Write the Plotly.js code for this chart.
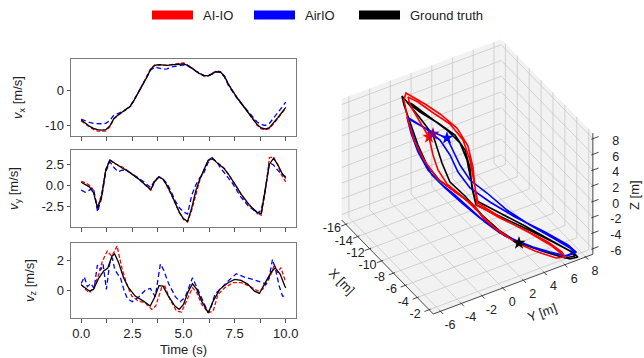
<!DOCTYPE html>
<html><head><meta charset="utf-8">
<script src="https://cdn.plot.ly/plotly-3.0.1.min.js"></script>
<style>html,body{margin:0;padding:0;background:#fff}#chart{width:644px;height:358px}</style>
</head><body><div id="chart"></div>
<script>
// ---------- velocity data ----------
const t = [0,0.2,0.4,0.6,0.8,1,1.2,1.4,1.6,1.8,2,2.2,2.4,2.6,2.8,3,3.2,3.4,3.6,3.8,4,4.2,4.4,4.6,4.8,5,5.2,5.4,5.6,5.8,6,6.2,6.4,6.6,6.8,7,7.2,7.4,7.6,7.8,8,8.2,8.4,8.6,8.8,9,9.2,9.4,9.6,9.8,10];
const vxGT  = [-8.3,-9.3,-10.1,-10.7,-11.1,-11.2,-11.1,-10.0,-7.9,-6.9,-6.1,-5.3,-4.4,-2.5,-0.4,1.5,3.8,6.2,7.3,7.5,7.3,7.3,7.4,7.4,7.6,7.7,7.3,6.6,5.6,4.9,4.4,4.3,4.9,5.5,5.4,4.2,1.8,-0.2,-1.8,-3.4,-5.0,-6.6,-8.2,-9.6,-10.6,-10.9,-10.5,-9.2,-7.7,-6.2,-4.7];
const vxAI  = [-8.6,-9.5,-10.3,-11.0,-11.5,-11.5,-11.5,-10.3,-8.0,-7.0,-6.2,-5.4,-4.5,-2.6,-0.3,1.7,4.0,6.4,7.4,7.4,7.2,7.3,7.5,7.6,7.8,8.0,7.4,6.5,5.5,4.8,4.3,4.3,5.0,5.7,5.5,4.3,1.9,-0.1,-1.7,-3.3,-5.0,-6.7,-8.4,-9.8,-10.9,-11.1,-10.8,-9.5,-8.0,-6.4,-4.9];
const vxAir = [-8.1,-8.6,-9.0,-9.3,-9.4,-9.4,-9.3,-8.5,-6.9,-6.4,-6.0,-5.2,-4.3,-2.4,-0.4,1.5,3.8,6.0,6.8,6.5,6.2,6.3,6.8,7.0,7.3,7.4,7.1,6.4,5.5,4.8,4.3,4.2,4.8,5.4,5.3,4.0,1.5,-0.4,-2.0,-3.4,-4.8,-6.3,-7.7,-8.9,-9.6,-9.9,-9.3,-7.9,-6.3,-4.8,-3.2];
const vyGT  = [0.35,0.05,-0.2,-0.9,-2.75,-1.3,1.8,3.0,2.65,2.3,2.05,1.8,1.5,1.1,0.75,0.35,-0.15,-0.55,0.5,0.95,0.7,-0.05,-1.05,-2.15,-3.25,-4.0,-4.35,-2.75,-0.7,0.75,1.85,2.95,3.3,2.75,2.35,1.95,1.3,0.6,-0.2,-1.0,-1.7,-2.3,-2.8,-3.25,-3.4,-0.3,2.5,3.2,2.5,1.5,0.8];
const vyAI  = [0.45,0.3,0.0,-0.6,-2.7,-1.0,1.9,3.05,2.6,2.35,2.2,1.85,1.5,1.1,0.75,0.3,-0.2,-0.6,0.4,1.0,0.75,-0.1,-1.1,-2.2,-3.3,-4.1,-4.4,-3.0,-1.1,0.6,1.8,2.9,3.2,2.8,2.5,2.0,1.3,0.5,-0.3,-1.0,-1.8,-2.4,-2.9,-3.3,-3.6,-0.8,3.3,3.4,2.4,1.2,0.4];
const vyAir = [-0.6,-0.85,-0.6,-0.35,-3.2,-1.5,1.6,2.8,2.1,1.6,1.8,1.75,1.5,1.2,0.9,0.5,0.1,-0.3,0.6,1.0,0.7,0.2,-0.8,-1.9,-2.7,-3.2,-3.45,-1.2,0.0,0.9,1.5,2.7,3.1,2.9,2.1,1.5,0.8,0.2,-0.6,-1.4,-2.0,-2.6,-2.9,-3.4,-3.0,-0.5,2.7,2.4,1.8,1.3,1.0];
const tzGT  = [0,0.2,0.4,0.6,0.85,1.1,1.3,1.5,1.63,1.83,2.07,2.31,2.64,3.04,3.37,3.58,3.8,4.0,4.26,4.58,4.79,5.0,5.24,5.44,5.65,5.89,6.21,6.45,6.77,7.18,7.5,7.82,8.15,8.47,8.71,8.95,9.27,9.48,9.73,9.95,10];
const vzGT  = [0.34,0.12,-0.07,0.04,0.8,1.3,1.5,2.3,2.47,1.86,0.84,0.16,-0.41,-0.75,-1.09,-0.52,0.3,0.27,-0.41,-1.09,-1.32,-0.98,-0.07,0.43,0.05,-0.75,-1.54,-0.75,0.05,0.5,0.73,0.66,0.39,-0.07,-0.23,0.39,1.18,1.52,1.07,0.27,0.15];
const tzAI  = [0,0.2,0.4,0.6,0.86,1.02,1.27,1.5,1.75,1.99,2.23,2.47,2.8,3.12,3.45,3.64,3.93,4.09,4.34,4.66,4.9,5.0,5.24,5.44,5.65,5.89,6.21,6.45,6.69,7.02,7.42,7.82,8.23,8.63,8.87,9.08,9.31,9.44,9.6,9.76,9.95,10];
const vzAI  = [0.39,0.05,-0.18,0.16,1.07,1.9,2.65,2.3,3.0,1.5,0.39,-0.41,-0.75,-0.86,-1.32,-1.09,0.16,0.27,-0.63,-1.43,-1.5,-1.2,-0.41,0.16,-0.18,-0.98,-1.54,-1.43,-0.29,0.16,0.5,0.5,0.27,-0.07,0.05,0.5,1.18,1.75,1.18,1.52,0.73,0.6];
const tzAir = [0,0.15,0.3,0.47,0.63,0.79,0.95,1.07,1.23,1.39,1.52,1.64,1.76,1.93,2.09,2.25,2.49,2.82,3.14,3.38,3.62,3.87,4.03,4.27,4.6,4.84,5.08,5.32,5.44,5.55,5.73,5.97,6.21,6.37,6.53,6.69,6.85,7.18,7.58,7.98,8.39,8.71,8.87,9.03,9.19,9.35,9.52,9.68,9.84,10];
const vzAir = [0.45,0.9,0.23,0.45,0.11,1.7,1.36,1.75,0.05,1.81,2.2,1.4,1.13,0.79,0.0,-0.57,-0.79,-0.45,0.0,0.11,-0.45,1.78,1.36,0.45,-0.45,-0.79,-0.5,0.34,0.84,0.5,-0.07,-0.75,-1.54,-1.09,-0.29,-0.07,0.16,0.61,1.11,0.88,0.73,0.61,0.5,0.39,0.84,2.09,1.29,0.27,-0.41,-0.41];

// ---------- 3D trajectories (metres) ----------
const gtX = [-4.693,-6.055,-7.284,-8.333,-9.562,-11.107,-12.431,-13.759,-14.997,-16.235,-16.741,-16.147,-15.193,-13.875,-12.557,-11.414,-10.358,-9.345,-8.380,-7.111,-5.795,-4.434,-3.074,-1.893,-1.392,-1.660,-2.520,-3.606,-4.693,-6.101,-7.648,-9.291,-10.611,-11.848,-12.766,-13.546,-14.916,-16.239,-15.921,-14.648,-13.147,-11.963,-10.863,-9.759,-8.656,-7.068,-5.208,-3.301,-2.029,-1.573,-1.931,-3.107,-4.512];
const gtY = [3.519,2.467,1.726,1.363,0.621,-0.422,-0.917,-1.022,-0.987,-0.952,-0.855,-0.616,-0.006,0.975,1.859,2.168,2.044,1.654,1.486,2.592,3.767,4.916,6.065,7.027,7.319,6.700,5.746,4.633,3.519,2.494,1.645,0.948,0.258,0.196,0.241,0.303,-0.165,-0.660,-0.360,0.454,1.425,2.000,2.044,1.796,1.549,2.857,4.394,5.905,6.912,7.134,6.374,5.119,3.704];
const gtZ = [-5.346,-4.485,-3.545,-2.527,-1.587,-0.491,0.762,2.328,3.894,5.460,6.165,5.617,4.912,4.051,3.111,1.936,0.527,-1.039,-2.371,-3.075,-3.780,-4.563,-5.346,-6.051,-6.443,-6.599,-6.286,-5.816,-5.346,-4.407,-3.154,-1.666,-0.569,0.918,2.093,3.111,4.442,5.695,5.539,4.599,3.503,2.485,1.153,-0.413,-1.979,-2.919,-4.015,-5.190,-5.973,-6.364,-6.521,-6.051,-5.425];
const aiX = [-4.918,-6.282,-7.465,-8.470,-9.925,-11.381,-12.797,-14.169,-15.363,-16.466,-16.699,-16.200,-15.337,-14.201,-12.790,-11.464,-10.270,-9.256,-8.335,-6.701,-5.023,-3.434,-2.343,-1.977,-2.336,-3.603,-4.918,-6.464,-7.967,-9.426,-10.654,-11.705,-12.623,-13.312,-13.634,-14.731,-15.965,-16.425,-15.745,-14.653,-13.289,-11.966,-10.728,-9.532,-8.382,-6.520,-4.659,-3.070,-2.160];
const aiY = [3.263,2.308,1.637,1.345,0.347,-0.555,-0.996,-1.173,-1.066,-0.819,-0.492,-0.103,0.560,1.355,2.185,2.486,2.282,1.894,1.557,2.839,4.288,5.596,6.320,6.400,5.737,4.438,3.263,2.220,1.443,0.735,-0.007,-0.271,-0.228,-0.121,-0.033,-0.271,-0.528,-0.456,0.118,0.842,1.797,2.291,2.256,1.955,1.681,3.024,4.562,5.772,6.311];
const aiZ = [-5.268,-4.328,-3.389,-2.371,-1.353,-0.256,1.153,2.720,4.286,5.852,6.400,6.087,5.539,4.756,3.659,2.250,0.605,-0.961,-2.371,-3.389,-4.328,-5.268,-6.051,-6.443,-6.521,-5.973,-5.268,-4.172,-2.919,-1.666,-0.726,0.370,1.545,2.485,2.955,4.129,5.460,6.087,5.695,4.912,3.973,2.720,1.153,-0.569,-2.214,-3.467,-4.563,-5.581,-6.286];
const airX = [-15.546,-14.955,-14.002,-12.778,-11.954,-10.947,-9.804,-8.440,-6.755,-5.029,-3.395,-2.168,-1.712,-1.933,-2.882,-3.878,-5.010,-6.008,-7.191,-8.512,-9.787,-11.015,-12.155,-13.436,-14.627,-15.546,-15.364,-14.229,-13.000,-11.858,-10.714,-9.435,-7.890,-6.072,-4.031,-2.396,-1.713,-2.023,-3.424,-5.645,-7.600,-9.102,-10.559,-11.744,-12.979,-14.262,-15.042];
const airY = [-1.058,-0.624,0.082,1.213,1.319,1.416,1.725,2.583,3.546,4.774,6.055,6.992,7.213,6.568,5.472,4.403,3.316,2.441,1.673,0.983,0.268,-0.475,-0.978,-1.208,-1.199,-1.058,-0.970,-0.077,0.665,0.974,1.090,1.513,2.556,3.926,5.649,6.931,7.310,6.427,4.818,2.715,1.425,0.549,-0.254,-0.829,-1.085,-1.120,-1.058];
const airZ = [4.521,4.129,3.503,2.876,1.936,0.762,-0.413,-1.431,-2.762,-3.937,-4.955,-5.738,-6.129,-6.364,-6.051,-5.660,-5.111,-4.563,-3.702,-2.605,-1.587,-0.648,0.370,1.780,3.268,4.521,4.364,3.659,2.720,1.545,0.214,-1.039,-2.136,-3.310,-4.485,-5.503,-6.051,-6.364,-5.895,-4.798,-3.389,-2.214,-1.039,-0.021,1.310,2.876,3.894];
const starX = [-13.634,-13.592,-12.778,-4.693];
const starY = [-0.033,0.329,1.213,3.519];
const starZ = [2.955,3.189,2.876,-5.346];
const starColors = ['#ff0000','#800080','#0000ff','#000000'];
const tick3 = [-16,-14,-12,-10,-8,-6,-4,-2];
const tickY3 = [-6,-4,-2,0,2,4,6,8];
const tickZ3 = [-6,-4,-2,0,2,4,6,8];

const seriesNames = ['AI-IO','AirIO','Ground truth'];
const seriesColors = ['#ff0000','#0000ff','#000000'];

// ---------- page geometry ----------
const W = 644, H = 358;
const px = x => x / W, py = y => (H - y) / H;
const FONT = 'Arial, "Liberation Sans", sans-serif';
const C = {ai:'#ff0000', air:'#0000ff', gt:'#000000'};
const TXT = '#222';

const traces = [];
function line2d(x, y, color, dash, xa, ya) {
  return {type:'scatter', mode:'lines', x:x, y:y, xaxis:xa, yaxis:ya, showlegend:false, hoverinfo:'skip',
          line:{color:color, width:1.3, dash:dash}};
}
[['x','y',vxAI,vxAir,vxGT,t,t,t],['x2','y2',vyAI,vyAir,vyGT,t,t,t],['x3','y3',vzAI,vzAir,vzGT,tzAI,tzAir,tzGT]].forEach(r => {
  traces.push(line2d(r[5], r[2], C.ai, '4px,2px', r[0], r[1]));
  traces.push(line2d(r[6], r[3], C.air, '5px,3px', r[0], r[1]));
  traces.push(line2d(r[7], r[4], C.gt, 'solid', r[0], r[1]));
});

// ---------- 3D view (matplotlib-like, azim -30) drawn on an overlay axis pair ----------
const BOX = {x:[-16.7,-1.3], y:[-6.7,8.7], z:[-6.7,8.7]};
const VIEW = {o:[510.45,243.27], ex:[5.95,6.1], ey:[10.36,-3.88], ez:[0,-7.86]};
function P(X, Y, Z) {
  return [VIEW.o[0] + VIEW.ex[0]*X + VIEW.ey[0]*Y + VIEW.ez[0]*Z,
          VIEW.o[1] + VIEW.ex[1]*X + VIEW.ey[1]*Y + VIEW.ez[1]*Z];
}
function polyTrace(pts, opts) {
  const xs = [], ys = [];
  pts.forEach(p => { if (p === null) { xs.push(null); ys.push(null); } else { const q = P(p[0],p[1],p[2]); xs.push(q[0]); ys.push(q[1]); } });
  return Object.assign({type:'scatter', mode:'lines', x:xs, y:ys, xaxis:'x4', yaxis:'y4', showlegend:false, hoverinfo:'skip'}, opts);
}
const [x0,x1] = BOX.x, [y0,y1] = BOX.y, [z0,z1] = BOX.z;
const paneOpts = {fill:'toself', fillcolor:'#f2f2f2', line:{width:0}};
traces.push(polyTrace([[x0,y0,z0],[x0,y1,z0],[x0,y1,z1],[x0,y0,z1],[x0,y0,z0]], paneOpts));
traces.push(polyTrace([[x0,y1,z0],[x1,y1,z0],[x1,y1,z1],[x0,y1,z1],[x0,y1,z0]], paneOpts));
traces.push(polyTrace([[x0,y0,z0],[x1,y0,z0],[x1,y1,z0],[x0,y1,z0],[x0,y0,z0]], paneOpts));
const grid = [];
tickY3.forEach(y => { grid.push([x0,y,z0],[x0,y,z1],null); grid.push([x0,y,z0],[x1,y,z0],null); });
tick3.forEach(x => { grid.push([x,y1,z0],[x,y1,z1],null); grid.push([x,y0,z0],[x,y1,z0],null); });
tickZ3.forEach(z => { grid.push([x0,y0,z],[x0,y1,z],null); grid.push([x0,y1,z],[x1,y1,z],null); });
traces.push(polyTrace(grid, {line:{color:'#c9c9c9', width:0.8}}));
const axl = [[x0,y0,z0],[x1,y0,z0],null,[x1,y0,z0],[x1,y1,z0],null,[x1,y1,z0],[x1,y1,z1],null];
tick3.forEach(x => axl.push([x,y0+0.15,z0],[x,y0-0.45,z0],null));
tickY3.forEach(y => axl.push([x1-0.15,y,z0],[x1+0.45,y,z0],null));
tickZ3.forEach(z => axl.push([x1,y1-0.15,z],[x1,y1+0.55,z],null));
traces.push(polyTrace(axl, {line:{color:'#333', width:0.9}}));
function labelTrace(vals, pos, off) {
  const xs = [], ys = [];
  vals.forEach(v => { const q = P.apply(null, pos(v)); xs.push(q[0] + off[0]); ys.push(q[1] + off[1]); });
  return {type:'scatter', mode:'text', x:xs, y:ys, text:vals.map(v => String(v)), textposition:'middle center',
          textfont:{size:12.5, color:TXT, family:FONT}, xaxis:'x4', yaxis:'y4', showlegend:false, hoverinfo:'skip', cliponaxis:false};
}
traces.push(labelTrace(tick3, v => [v,y0,z0], [-14,5]));
traces.push(labelTrace(tickY3, v => [x1,v,z0], [9.4,14.7]));
traces.push(labelTrace(tickZ3, v => [x1,y1,v], [23,3]));
function traj(X, Y, Z, color) {
  return polyTrace(X.map((v,i) => [v, Y[i], Z[i]]), {line:{color:color, width:1.6}});
}
traces.push(traj(gtX, gtY, gtZ, C.gt));
traces.push(traj(airX, airY, airZ, C.air));
traces.push(traj(aiX, aiY, aiZ, C.ai));
const sp = starX.map((v,i) => P(v, starY[i], starZ[i]));
traces.push({type:'scatter', mode:'markers', x:sp.map(p=>p[0]), y:sp.map(p=>p[1]), xaxis:'x4', yaxis:'y4',
  marker:{symbol:'star', size:10, color:starColors, line:{width:0}}, showlegend:false, hoverinfo:'skip'});

// ---------- 2D axes ----------
const xDom = [px(71), px(296)];
function xax(anchor, labels) {
  return {domain:xDom, anchor:anchor, range:[-0.5,10.5], tickvals:[0,2.5,5,7.5,10],
    ticktext:['0.0','2.5','5.0','7.5','10.0'], showticklabels:labels, ticks:'outside', ticklen:3.5,
    tickcolor:'#555', tickwidth:1, showgrid:false, zeroline:false, showline:true, linecolor:'#7a7a7a',
    linewidth:1, mirror:true, tickfont:{size:13, color:TXT},
    minor:{dtick:1.25, tick0:0, ticks:'outside', ticklen:3.5, tickcolor:'#555', showgrid:false}};
}
function yax(anchor, dom, range, vals, txt, title) {
  return {domain:dom, anchor:anchor, range:range, tickvals:vals, ticktext:txt, ticks:'outside', ticklen:3.5,
    tickcolor:'#555', showgrid:false, zeroline:false, showline:true, linecolor:'#7a7a7a', linewidth:1,
    mirror:true, tickfont:{size:13, color:TXT},
    title:{text:title, font:{size:13, color:TXT}, standoff:19}};
}
const axTitle = (x, y, text, ang) => ({xref:'paper', yref:'paper', x:px(x), y:py(y), xanchor:'center', yanchor:'middle',
  text:text, textangle:ang, showarrow:false, font:{size:13, color:TXT}});
const layout = {
  width:W, height:H, margin:{l:0,r:0,t:0,b:0}, paper_bgcolor:'#fff', plot_bgcolor:'rgba(0,0,0,0)',
  font:{family:FONT, size:13, color:TXT}, showlegend:false,
  xaxis: xax('y', false), xaxis2: xax('y2', false),
  xaxis3: Object.assign(xax('y3', true), {title:{text:'Time (s)', font:{size:13,color:TXT}, standoff:4}}),
  yaxis: yax('x', [py(136), py(59)], [-12.9, 9.1], [-10, 0], ['-10','0'], '<i>v</i><sub>x</sub> [m/s]'),
  yaxis2: yax('x2', [py(227), py(150)], [-5.0, 4.2], [-2.5, 0, 2.5], ['-2.5','0.0','2.5'], '<i>v</i><sub>y</sub> [m/s]'),
  yaxis3: yax('x3', [py(318), py(243)], [-1.9, 3.2], [0, 2], ['0','2'], '<i>v</i><sub>z</sub> [m/s]'),
  xaxis4: {domain:[0,1], anchor:'y4', range:[0,W], visible:false, fixedrange:true},
  yaxis4: {domain:[0,1], anchor:'x4', range:[H,0], visible:false, fixedrange:true},
  shapes: [],
  annotations: [axTitle(342, 281, 'X [m]', 45.7), axTitle(542, 312, 'Y [m]', -20.5), axTitle(635, 195, 'Z [m]', -90)]
};
const legX = [152, 254, 359];
seriesNames.forEach((n, i) => {
  layout.shapes.push({type:'rect', xref:'paper', yref:'paper', x0:px(legX[i]), x1:px(legX[i]+41),
    y0:py(19.5), y1:py(10.5), fillcolor:seriesColors[i], line:{width:0}});
  layout.annotations.push({xref:'paper', yref:'paper', x:px(legX[i]+49), y:py(15), xanchor:'left', yanchor:'middle',
    text:n, showarrow:false, font:{size:13, color:TXT}});
});
Plotly.newPlot('chart', traces, layout, {staticPlot:true, displayModeBar:false});
</script></body></html>
